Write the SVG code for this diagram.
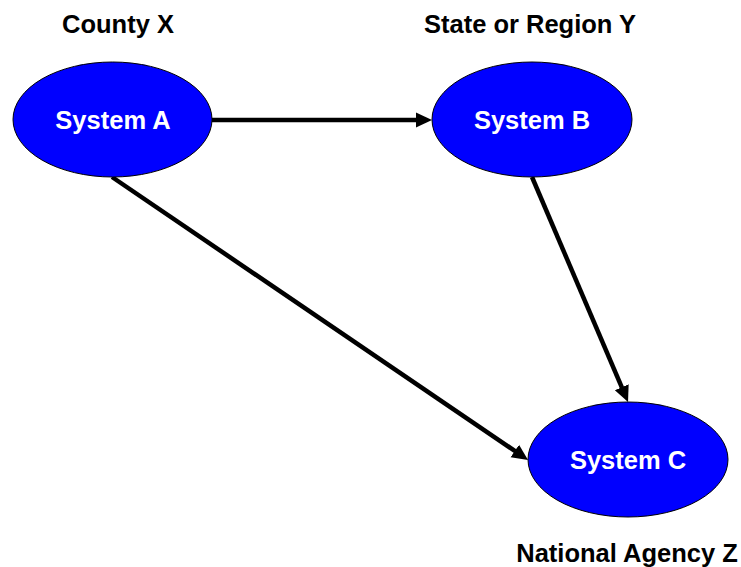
<svg xmlns="http://www.w3.org/2000/svg" width="741" height="567" viewBox="0 0 741 567">
<style>
.node ellipse{fill:#0000FF;stroke:#000;stroke-width:1}
.lbl{font-family:"Liberation Sans",Arial,sans-serif;font-weight:bold;font-size:25.5px;text-anchor:middle}
.in{fill:#fff}
.out{fill:#000}
.conn line{stroke:#000;stroke-width:4.5;marker-end:url(#ah)}
</style>
<defs>
<marker id="ah" markerUnits="userSpaceOnUse" markerWidth="16" markerHeight="16" refX="7" refY="7.5" orient="auto" viewBox="0 0 16 15">
<path d="M0,0 L16,7.5 L0,15 z" fill="#000"/>
</marker>
</defs>
<rect width="741" height="567" fill="#fff"/>
<g id="connectors" class="conn">
<line x1="212" y1="120" x2="423" y2="120"/>
<line x1="112" y1="177" x2="520.6" y2="454.9"/>
<line x1="532" y1="177" x2="624.5" y2="393.7"/>
</g>
<g id="nodeA" class="node">
<ellipse cx="112.5" cy="119.5" rx="99.5" ry="57.5"/>
<text class="lbl in" x="113" y="129">System A</text>
</g>
<g id="nodeB" class="node">
<ellipse cx="532" cy="119.5" rx="100" ry="57.5"/>
<text class="lbl in" x="532" y="129">System B</text>
</g>
<g id="nodeC" class="node">
<ellipse cx="628" cy="459.5" rx="100" ry="57.5"/>
<text class="lbl in" x="628" y="469">System C</text>
</g>
<g id="labels">
<text class="lbl out" x="118" y="33">County X</text>
<text class="lbl out" x="530" y="33">State or Region Y</text>
<text class="lbl out" x="627" y="562">National Agency Z</text>
</g>
</svg>
